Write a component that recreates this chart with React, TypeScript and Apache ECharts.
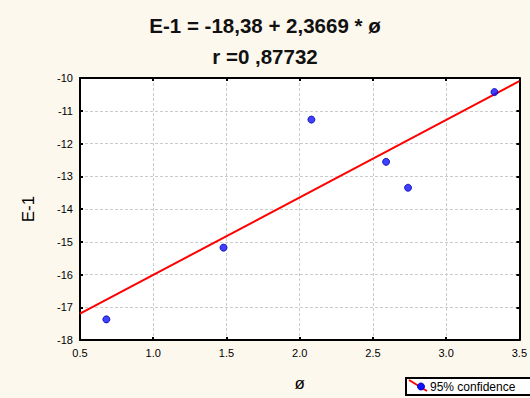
import React, { useEffect, useRef } from "react";
import * as echarts from "echarts";

const xValues = [0.68, 1.48, 2.08, 2.59, 2.74, 3.33];
const yValues = [-17.37, -15.18, -11.27, -12.56, -13.35, -10.43];
const intercept = -18.38;
const slope = 2.3669;
const lineX = [0.5, 3.5];
const titleLines = ["E-1 = -18,38 + 2,3669 * ø", "r =0 ,87732"];
const legendLabel = "95% confidence";

export default function App() {
  const ref = useRef<HTMLDivElement>(null);
  useEffect(() => {
    const chart = echarts.init(ref.current!, null, { renderer: "svg" });
    const font = "Arial, 'Liberation Sans', sans-serif";
    const lineData = lineX.map((x) => [x, intercept + slope * x]);
    const tickStyle = { show: true, inside: true, length: 3, lineStyle: { color: "#000", width: 2 } };
    chart.setOption({
      animation: false,
      backgroundColor: "#FDF8EE",
      title: {
        text: titleLines.join("\n"),
        left: "center",
        top: 5,
        textStyle: { fontFamily: font, fontSize: 20.5, fontWeight: "bold", color: "#111", lineHeight: 31 },
      },
      grid: {
        left: 80,
        right: 5,
        top: 78,
        bottom: 58,
        show: true,
        backgroundColor: "#fff",
        borderColor: "#000",
        borderWidth: 0,
      },
      xAxis: [
        {
          type: "value",
          min: 0.5,
          max: 3.5,
          interval: 0.5,
          name: "ø",
          nameLocation: "middle",
          nameGap: 35,
          nameTextStyle: { fontFamily: font, fontSize: 17, color: "#000" },
          axisLine: { show: true, onZero: false, lineStyle: { color: "#000", width: 2 } },
          axisTick: tickStyle,
          axisLabel: { fontFamily: font, fontSize: 11, color: "#000", margin: 7, formatter: (v: number) => v.toFixed(1) },
          splitLine: { show: true, lineStyle: { color: "#cccccc", type: [3, 2], width: 1 } },
        },
        {
          type: "value",
          position: "top",
          min: 0.5,
          max: 3.5,
          interval: 0.5,
          axisLine: { show: true, onZero: false, lineStyle: { color: "#000", width: 2 } },
          axisTick: tickStyle,
          axisLabel: { show: false },
          splitLine: { show: false },
        },
      ],
      yAxis: [
        {
          type: "value",
          min: -18,
          max: -10,
          interval: 1,
          name: "E-1",
          nameLocation: "middle",
          nameGap: 43,
          nameRotate: 90,
          nameTextStyle: { fontFamily: font, fontSize: 17, color: "#000" },
          axisLine: { show: true, onZero: false, lineStyle: { color: "#000", width: 2 } },
          axisTick: tickStyle,
          axisLabel: { fontFamily: font, fontSize: 11, color: "#000", margin: 7 },
          splitLine: { show: true, lineStyle: { color: "#cccccc", type: [3, 2], width: 1 } },
        },
        {
          type: "value",
          position: "right",
          min: -18,
          max: -10,
          interval: 1,
          axisLine: { show: true, onZero: false, lineStyle: { color: "#000", width: 2 } },
          axisTick: tickStyle,
          axisLabel: { show: false },
          splitLine: { show: false },
        },
      ],
      series: [
        {
          type: "line",
          data: lineData,
          symbol: "none",
          lineStyle: { color: "#ff0000", width: 2 },
          z: 3,
        },
        {
          type: "scatter",
          data: xValues.map((x, i) => [x, yValues[i]]),
          symbol: "circle",
          symbolSize: 7,
          itemStyle: { color: "#1010ff", borderColor: "#0000b0", borderWidth: 1 },
          z: 4,
        },
      ],
      graphic: [
        {
          type: "group",
          left: 405,
          top: 377,
          children: [
            { type: "rect", shape: { x: 0, y: 0, width: 130, height: 17 }, style: { fill: "#fff", stroke: "#000", lineWidth: 2 } },
            { type: "line", shape: { x1: 3, y1: 2, x2: 21, y2: 13 }, style: { stroke: "#ff0000", lineWidth: 2 } },
            { type: "circle", shape: { cx: 15, cy: 8.5, r: 3.5 }, style: { fill: "#1010ff", stroke: "#0000b0", lineWidth: 1 } },
            { type: "text", x: 24, y: 9, style: { text: legendLabel, font: "12px Arial, 'Liberation Sans', sans-serif", fill: "#000", verticalAlign: "middle" } },
          ],
        },
      ],
    });
    return () => chart.dispose();
  }, []);
  return <div ref={ref} style={{ width: 530, height: 398, position: "fixed", left: 0, top: 0 }} />;
}
